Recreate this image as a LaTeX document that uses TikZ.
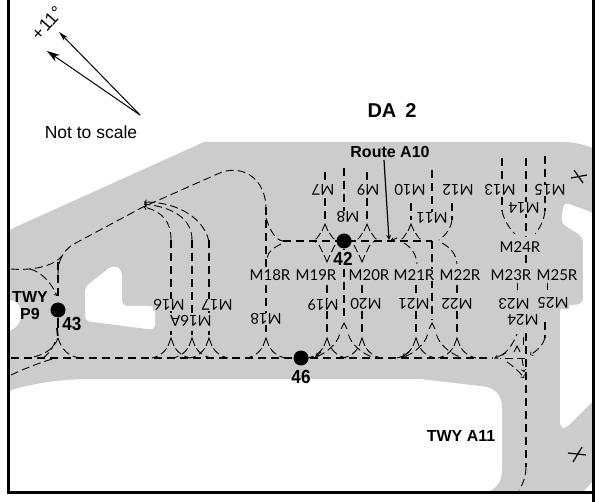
\documentclass[tikz,border=0pt]{standalone}
\usepackage{fontspec}
\usetikzlibrary{arrows.meta}
\setmainfont{Liberation Sans}
\newfontfamily\standfont{Lato}
\definecolor{roadgrey}{HTML}{CCCCCC}
\tikzset{
    taxiline/.style={line width=1.7pt, dash pattern=on 8pt off 5pt},
    leadline/.style={line width=0.9pt, dash pattern=on 8pt off 4pt},
    caretline/.style={line width=0.9pt},
    spot/.style={circle, fill=black, minimum size=15pt, inner sep=0pt},
    standmark/.style={font=\standfont\fontsize{15}{15}\selectfont, fill=roadgrey, inner sep=0.5pt},
    standflip/.style={standmark, rotate=180},
    boldmark/.style={font=\bfseries\fontsize{16}{16}\selectfont, inner sep=0pt, align=center},
    spotmark/.style={font=\bfseries\fontsize{19}{19}\selectfont, inner sep=0pt, xscale=0.9},
}
\begin{document}
\begin{tikzpicture}[x=1pt, y=-1pt, >=to]
    \useasboundingbox (0, 0) rectangle (602, 502);
    % apron
    \fill[roadgrey] (9, 230) -- (204, 142) -- (563, 142) .. controls (575, 142) and (585, 145) .. (592, 148)
        -- (592, 482) -- (583, 492) -- (9, 492) -- cycle;
    \fill[white, rounded corners=5pt] (596, 214) -- (564, 202) -- (561, 223) -- (583, 237) -- (583, 304)
        -- (560, 306) -- (560, 428) -- (566, 428) -- (596, 398) -- cycle;
    \fill[white] (9, 391) .. controls (30, 384) and (60, 379) .. (90, 379) -- (420, 379) -- (480, 386)
        .. controls (495, 387) and (502, 395) .. (502, 408) -- (502, 470) .. controls (502, 482) and (496, 488) .. (488, 492)
        -- (9, 492) -- cycle;
    \fill[white, rounded corners=5pt] (85, 287) -- (113, 265) -- (122, 270) -- (122, 306) -- (155, 306)
        -- (155, 330) -- (85, 321) -- cycle;
    \fill[white] (9, 300) .. controls (16, 300) and (21, 305) .. (21, 314) .. controls (21, 323) and (16, 329) .. (9, 331) -- cycle;
    % spots
    \node[spot] (spot43) at (58, 310) {};
    \node[spot] (spot42) at (344, 241) {};
    \node[spot] (spot46) at (301, 358) {};
    % main lines
    \draw[taxiline] (11, 358) -- (493, 358);
    \draw[taxiline] (283, 241) -- (432, 241);
    \draw[leadline] (525, 358) -- (500, 358);
    \draw[leadline] (11, 269) .. controls (35, 271) and (55, 265) .. (62, 256) .. controls (64, 252) and (68, 248) .. (72, 245)
        -- (143, 207) -- (222, 172) .. controls (245, 165) and (265, 180) .. (266, 207);
    % P9 junction
    \draw[taxiline] (58, 262) -- (58, 296);
    \draw[leadline] (62, 256) .. controls (59, 262) and (58, 268) .. (58, 276);
    \draw[leadline, ->] (30, 269) .. controls (42, 272) and (52, 284) .. (57, 296);
    \draw[line width=1.7pt] (spot43) -- (58, 328);
    \draw[taxiline] (57, 328) -- (58, 338);
    \draw[leadline] (58, 338) .. controls (54, 350) and (42, 356) .. (28, 358);
    \draw[leadline] (58, 338) .. controls (62, 350) and (68, 356) .. (80, 358);
    \draw[leadline] (11, 375) .. controls (30, 366) and (48, 360) .. (56, 358);
    \draw[leadline] (43, 358) .. controls (50, 353) and (54, 346) .. (56, 339);
    % stands M16 to M18
    \foreach \standx in {171, 192, 209}
        \draw[taxiline] (\standx, 240) -- (\standx, 335);
    \draw[leadline, ->] (171, 240) .. controls (171, 222) and (163, 212) .. (144, 207);
    \draw[leadline, ->] (192, 240) .. controls (192, 218) and (172, 207) .. (144, 204);
    \draw[leadline, ->] (209, 242) .. controls (205, 220) and (180, 202) .. (144, 202);
    \draw[taxiline] (266, 207) -- (266, 335);
    \draw[leadline] (266, 218) .. controls (270, 230) and (275, 240) .. (283, 241);
    \draw[leadline] (281, 244) .. controls (273, 248) and (268, 252) .. (267, 258);
    % stands below Route A10
    \foreach \standx in {327, 362, 416, 457}
        \draw[taxiline] (\standx, 285) -- (\standx, 334);
    \draw[taxiline] (spot42) -- (344, 249);
    \draw[taxiline] (344, 269) -- (344, 320);
    \draw[taxiline] (432, 241) -- (432, 320);
    % stands above Route A10
    \foreach \standx/\standy in {325/172, 344/168, 367/172, 432/170}
        \draw[taxiline] (\standx, \standy) -- (\standx, 220);
    \foreach \standx/\standy in {411/203, 452/203}
        \draw[taxiline] (\standx, \standy) -- (\standx, 220);
    \draw[leadline] (452, 220) .. controls (451, 228) and (446, 235) .. (439, 240);
    \draw[leadline] (404, 243) .. controls (412, 248) and (416, 254) .. (417, 264);
    \draw[leadline] (442, 243) .. controls (451, 248) and (456, 254) .. (457, 264);
    % forks: x / apex / caret foot / end / spread
    \foreach \standx/\apexy/\capy/\endy/\spread in {171/338/346/358/19, 192/338/346/358/19, 209/338/346/358/19,
            266/338/346/358/19, 327/338/346/358/19, 362/338/346/358/19, 416/338/346/358/19, 457/338/346/358/19,
            344/323/329/357/28, 432/323/329/357/28,
            325/224/231/241/13, 367/224/231/241/13, 411/224/231/241/13,
            327/262/255/241/13, 362/262/255/241/13} {
        \draw[caretline] (\standx-3, \capy) -- (\standx, \apexy) -- (\standx+3, \capy);
        \draw[leadline] (\standx-4.5, {\capy+0.2*(\endy-\capy)}) .. controls (\standx-6.5, {\capy+0.5*(\endy-\capy)})
            and ({\standx-0.6*\spread}, {\capy+0.85*(\endy-\capy)}) .. (\standx-\spread, \endy);
        \draw[leadline] (\standx+4.5, {\capy+0.2*(\endy-\capy)}) .. controls (\standx+6.5, {\capy+0.5*(\endy-\capy)})
            and ({\standx+0.6*\spread}, {\capy+0.85*(\endy-\capy)}) .. (\standx+\spread, \endy);
    }
    \draw[caretline, -stealth] (321, 352) -- (315, 357);
    \draw[caretline, -stealth] (409, 352) -- (402, 357);
    \draw[caretline, -stealth] (397, 238) -- (390, 241);
    % stands M13 to M15 and A11
    \draw[taxiline] (502, 158) -- (502, 211);
    \draw[taxiline] (526, 158) -- (526, 237);
    \draw[taxiline] (526, 255) -- (526, 266);
    \draw[taxiline] (545, 156) -- (545, 211);
    \draw[leadline] (502, 211) .. controls (504, 220) and (509, 228) .. (515, 234);
    \draw[leadline] (545, 211) .. controls (544, 220) and (540, 228) .. (535, 234);
    \draw[caretline] (517, 283) -- (517, 290);
    \draw[caretline] (547, 283) -- (547, 290);
    \draw[taxiline] (526, 333) -- (526, 467);
    \draw[leadline] (526, 467) .. controls (526, 476) and (523, 484) .. (519, 490);
    \draw[taxiline] (545, 322) -- (545, 338);
    \draw[leadline, ->] (545, 338) .. controls (543, 345) and (538, 350) .. (530, 355);
    \draw[caretline, -stealth] (506, 353) -- (494, 358.5);
    \draw[leadline] (523, 345) -- (523, 333);
    \draw[leadline] (502, 355) .. controls (508, 351) and (513, 344) .. (517, 334);
    \draw[caretline] (514, 352) -- (517, 346) -- (520, 352);
    \draw[leadline, ->] (507, 362) .. controls (513, 366) and (519, 371) .. (524, 378);
    \draw[leadline, ->] (522, 358) -- (524, 372);
    \draw[caretline] (518, 358) -- (524, 358);
    % stand labels
    \node[standmark] (m18r) at (270, 275) {M18R};
    \node[standmark] (m19r) at (316, 275) {M19R};
    \node[standmark] (m20r) at (369, 275) {M20R};
    \node[standmark] (m21r) at (414, 275) {M21R};
    \node[standmark] (m22r) at (460, 275) {M22R};
    \node[standmark] (m23r) at (511, 275) {M23R};
    \node[standmark] (m25r) at (557, 275) {M25R};
    \node[standmark] (m24r) at (520, 247) {M24R};
    \node[standflip] (m7) at (323, 190) {M7};
    \node[standflip] (m8) at (348, 217) {M8};
    \node[standflip] (m9) at (368, 190) {M9};
    \node[standflip] (m10) at (410, 190) {M10};
    \node[standflip] (m11) at (432, 218) {M11};
    \node[standflip] (m12) at (458, 190) {M12};
    \node[standflip] (m13) at (500, 190) {M13};
    \node[standflip] (m14) at (524, 208) {M14};
    \node[standflip] (m15) at (550, 190) {M15};
    \node[standflip] (m16) at (169, 305) {M16};
    \node[standflip] (m16a) at (191, 321) {M16A};
    \node[standflip] (m17) at (217, 305) {M17};
    \node[standflip] (m18) at (266, 319) {M18};
    \node[standflip] (m19) at (323, 305) {M19};
    \node[standflip] (m20) at (366, 304) {M20};
    \node[standflip] (m21) at (414, 304) {M21};
    \node[standflip] (m22) at (457, 304) {M22};
    \node[standflip] (m23) at (514, 304) {M23};
    \node[standflip] (m24) at (523, 320) {M24};
    \node[standflip] (m25) at (553, 303) {M25};
    % spot labels
    \node[spotmark] (label43) at (72, 324) {43};
    \node[spotmark] (label42) at (343, 259) {42};
    \node[spotmark] (label46) at (301, 377) {46};
    \node[boldmark] (twyp9) at (30, 306) {TWY\\[1pt]P9};
    \node[boldmark] (twya11) at (461, 436) {TWY A11};
    \node[boldmark, font=\bfseries\fontsize{20}{20}\selectfont] (da2) at (392, 111) {DA\hspace{9pt}2};
    \node[boldmark] (routea10) at (390, 152) {Route A10};
    \coordinate (routeend) at (389, 240);
    \draw[line width=1.2pt, -stealth] (384, 160) -- (routeend);
    % crossings
    \draw[line width=1.2pt] (571, 178) -- (587, 175);
    \draw[line width=1.2pt] (574, 170) -- (583, 183);
    \draw[line width=1.2pt] (568, 453) -- (586, 455);
    \draw[line width=1.2pt] (573, 462) -- (582, 447);
    % north arrows
    \coordinate (northfoot) at (140, 115);
    \coordinate (northtrue) at (59, 32);
    \coordinate (northmag) at (47, 51);
    \draw[line width=1pt, -{Stealth[length=10pt, width=5pt]}] (northfoot) -- (northtrue);
    \draw[line width=1pt, -{Stealth[length=13pt, width=8pt]}] (northfoot) -- (northmag);
    \node[font=\fontsize{18}{18}\selectfont, rotate=48, inner sep=0pt] (variation) at (47, 23) {+\hspace{1pt}11°};
    \node[font=\fontsize{17.5}{17.5}\selectfont, inner sep=0pt] (scalenote) at (91, 132) {Not to scale};
    % frame
    \draw[line width=3pt] (8.5, 0) -- (8.5, 493.5);
    \draw[line width=3pt] (593, 0) -- (593, 502);
    \draw[line width=3pt] (8.5, 492) -- (594, 492);
\end{tikzpicture}
\end{document}
